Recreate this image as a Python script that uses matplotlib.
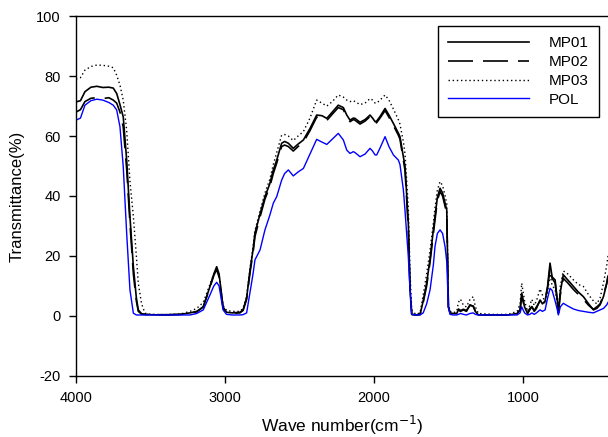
import numpy as np
import matplotlib.pyplot as plt

plt.rcParams['font.family'] = ['Liberation Sans', 'DejaVu Sans']
plt.rcParams['axes.unicode_minus'] = False

# wave numbers (cm-1) shared by all spectra
wavenumber = [4000, 3970, 3940, 3900, 3860, 3820, 3780, 3750, 3727, 3705,
              3683, 3660, 3638, 3615, 3595, 3582, 3560, 3537, 3500, 3400,
              3300, 3235, 3190, 3146, 3101, 3075, 3056, 3040, 3013, 2990,
              2950, 2900, 2879, 2855, 2832, 2812, 2799, 2765, 2732, 2700,
              2676, 2653, 2620, 2600, 2575, 2542, 2510, 2474, 2430, 2385,
              2350, 2317, 2280, 2240, 2206, 2183, 2161, 2139, 2128, 2094,
              2060, 2027, 2010, 1993, 1982, 1960, 1926, 1900, 1870, 1837,
              1826, 1803, 1792, 1770, 1758, 1747, 1720, 1691, 1670, 1647,
              1624, 1602, 1591, 1575, 1557, 1540, 1523, 1512, 1501, 1490,
              1470, 1445, 1434, 1420, 1400, 1380, 1356, 1334, 1320, 1300,
              1200, 1100, 1040, 1020, 1009, 990, 970, 955, 941, 925,
              910, 886, 870, 852, 835, 819, 805, 785, 770, 763,
              750, 730, 700, 662, 630, 595, 560, 528, 505, 483,
              460, 438, 430]

mp01 = [71.4, 71.8, 74.8, 76.3, 76.6, 76.2, 76.3, 76.0, 74.2, 70.5,
        66.4, 52.0, 33.1, 16.4, 6.0, 2.0, 0.7, 0.5, 0.4, 0.3,
        0.5, 1.0, 1.5, 3.0, 9.8, 14.0, 16.4, 14.0, 3.0, 1.2,
        1.0, 1.2, 2.0, 6.0, 15.3, 22.0, 27.6, 34.0, 39.8, 44.0,
        48.7, 52.0, 57.6, 58.2, 57.6, 55.9, 57.3, 58.7, 62.5, 67.0,
        66.8, 65.9, 68.0, 70.3, 69.5, 67.0, 65.3, 66.0, 65.9, 64.6,
        65.5, 67.0, 66.0, 64.8, 65.0, 66.5, 69.2, 67.0, 64.2, 61.0,
        59.8, 53.0, 49.8, 30.9, 8.7, 0.5, 0.3, 0.5, 5.0, 10.9,
        19.0, 28.7, 33.0, 39.5, 42.6, 41.0, 37.5, 35.3, 3.0, 1.0,
        0.8, 0.8, 2.0, 1.5, 2.0, 1.5, 3.7, 3.1, 1.5, 0.3,
        0.3, 0.3, 0.8, 2.0, 7.6, 3.0, 0.8, 2.0, 3.1, 1.5,
        2.5, 5.3, 4.0, 5.0, 10.0, 17.6, 13.0, 12.0, 5.0, 0.9,
        8.0, 13.7, 12.0, 9.8, 8.0, 6.4, 4.0, 2.0, 2.5, 3.7,
        6.5, 10.9, 13.0]

mp02 = [68.0, 68.8, 71.5, 72.6, 72.8, 72.5, 72.8, 72.0, 71.0, 68.0,
        63.0, 49.0, 31.0, 14.0, 5.0, 1.5, 0.6, 0.5, 0.4, 0.4,
        0.5, 1.0, 1.3, 3.0, 9.5, 13.5, 15.5, 13.0, 2.5, 1.0,
        0.9, 1.0, 1.8, 5.5, 14.5, 21.0, 26.5, 33.0, 39.0, 43.0,
        47.5, 51.0, 56.5, 57.0, 56.5, 55.0, 56.5, 58.0, 61.8, 66.3,
        66.0, 65.2, 67.3, 69.5, 68.8, 66.3, 64.8, 65.5, 65.3, 64.0,
        65.0, 66.5, 65.3, 64.2, 64.5, 66.0, 68.5, 66.3, 63.5, 60.3,
        59.0, 52.0, 48.5, 29.0, 8.0, 0.5, 0.3, 0.5, 4.5, 10.0,
        18.0, 27.5, 32.0, 38.5, 41.5, 40.0, 36.5, 34.0, 3.0, 1.0,
        0.8, 1.0, 2.3, 1.8, 2.2, 1.8, 3.5, 3.3, 1.5, 0.3,
        0.3, 0.3, 0.8, 2.0, 6.5, 3.0, 0.8, 2.5, 3.0, 1.8,
        3.0, 5.0, 4.5, 5.5, 9.5, 16.0, 12.5, 11.0, 5.0, 1.0,
        7.0, 12.5, 11.0, 8.8, 7.2, 5.5, 3.5, 2.2, 3.0, 4.0,
        7.0, 11.0, 13.5]

mp03 = [79.0, 79.5, 82.0, 83.2, 83.7, 83.6, 83.3, 82.8, 80.3, 77.0,
        72.0, 62.0, 45.0, 33.1, 20.0, 10.9, 4.0, 0.9, 0.5, 0.4,
        0.6, 1.5, 2.5, 4.5, 10.5, 14.0, 16.0, 13.5, 3.5, 1.8,
        1.5, 1.5, 2.5, 6.5, 16.0, 23.0, 28.5, 35.0, 41.0, 45.5,
        50.5, 54.5, 60.3, 60.5, 60.0, 58.5, 60.0, 61.5, 66.0, 72.0,
        71.0, 70.0, 71.5, 73.7, 73.0, 72.0, 71.5, 71.8, 71.5, 70.5,
        71.0, 72.5, 72.0, 71.0, 71.0, 72.0, 73.7, 72.0, 69.0, 65.5,
        64.0, 58.0, 54.0, 36.0, 14.0, 2.0, 0.5, 1.0, 7.0, 14.0,
        22.0, 31.0, 36.0, 42.0, 44.8, 43.5, 40.0, 37.5, 4.0, 1.5,
        1.0, 1.5, 4.5, 5.6, 3.5, 3.0, 5.5, 6.4, 3.0, 0.8,
        0.5, 0.5, 1.5, 4.0, 10.9, 5.0, 1.5, 3.5, 5.5, 3.5,
        5.0, 9.0, 7.0, 4.0, 8.0, 14.0, 10.0, 9.0, 4.0, 1.5,
        10.0, 15.0, 14.0, 12.0, 10.5, 9.8, 7.0, 5.0, 4.0, 6.0,
        11.0, 17.0, 20.0]

pol = [65.3, 66.0, 70.3, 71.8, 72.3, 72.0, 71.2, 70.3, 68.7, 63.1,
       49.8, 27.6, 8.7, 0.9, 0.3, 0.3, 0.3, 0.3, 0.3, 0.3,
       0.3, 0.3, 0.8, 2.0, 7.0, 10.0, 11.2, 10.0, 2.0, 0.5,
       0.3, 0.3, 0.4, 1.0, 8.0, 14.0, 18.7, 22.0, 28.7, 33.5,
       37.6, 39.8, 45.3, 47.5, 48.7, 46.7, 48.0, 49.2, 54.0, 58.9,
       58.0, 57.2, 59.0, 60.9, 58.7, 55.3, 54.2, 54.8, 54.5, 53.1,
       54.0, 55.9, 55.0, 53.7, 53.7, 56.0, 59.8, 56.5, 53.7, 52.0,
       50.5, 42.0, 35.0, 19.8, 8.0, 0.5, 0.3, 0.3, 1.0, 4.0,
       8.7, 17.0, 23.1, 27.5, 28.7, 27.5, 23.0, 18.0, 3.0, 0.5,
       0.3, 0.3, 0.5, 0.8, 0.5, 0.3, 0.8, 1.0, 0.5, 0.3,
       0.3, 0.3, 0.3, 1.0, 3.0, 1.0, 0.3, 0.5, 1.0, 0.5,
       1.0, 2.0, 1.5, 2.0, 6.0, 9.2, 8.5, 5.0, 2.0, 0.3,
       3.0, 4.2, 3.3, 2.3, 1.8, 1.5, 1.2, 1.0, 1.5, 2.0,
       2.5, 3.7, 4.5]

labels = ['MP01', 'MP02', 'MP03', 'POL']
yticks = [-20, 0, 20, 40, 60, 80, 100]
xticks = [4000, 3000, 2000, 1000]

fig = plt.figure(figsize=(6.08, 4.37), dpi=100)
ax = fig.add_axes([0.125, 0.14, 0.875, 0.823])

ax.plot(wavenumber, mp01, color='black', lw=1.2, ls='-', label=labels[0])
ax.plot(wavenumber, mp02, color='black', lw=1.2, ls=(0, (15, 6)), label=labels[1])
ax.plot(wavenumber, mp03, color='black', lw=1.0, ls=(0, (1, 2)), label=labels[2])
ax.plot(wavenumber, pol, color='#0000ff', lw=1.0, ls='-', label=labels[3])

ax.set_xlim(4000, 430)
ax.set_ylim(-20, 100)
ax.set_xticks(xticks)
ax.set_yticks(yticks)
ax.tick_params(direction='out', length=5, width=1, labelsize=10.5, pad=6)
ax.spines['right'].set_visible(False)
for s in ['left', 'bottom', 'top']:
    ax.spines[s].set_linewidth(1.0)

ax.set_xlabel('Wave number(cm$^{-1}$)', fontsize=12.5, labelpad=6)
ax.set_ylabel('Transmittance(%)', fontsize=12, labelpad=8)

leg = ax.legend(loc='upper right', bbox_to_anchor=(0.983, 0.972), borderaxespad=0,
                fancybox=False, edgecolor='black', framealpha=1, fontsize=11,
                handlelength=5.3, handletextpad=1.35, labelspacing=0.32,
                borderpad=0.65)
leg.get_frame().set_linewidth(1.0)

fig.savefig('out.png', dpi=100)
